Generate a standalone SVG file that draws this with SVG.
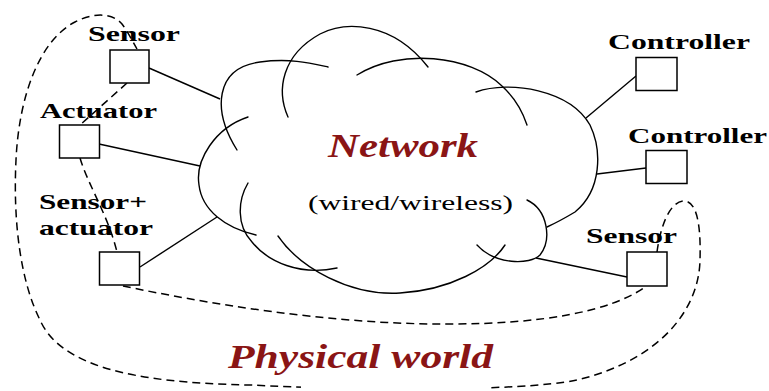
<svg xmlns="http://www.w3.org/2000/svg" width="769" height="391" viewBox="0 0 769 391">
<style>
.bg{fill:#ffffff}
.cloud{fill:none;stroke:#000;stroke-width:1.4;stroke-linecap:round}
.link{fill:none;stroke:#000;stroke-width:1.4}
.dash{fill:none;stroke:#000;stroke-width:1.5;stroke-dasharray:8 5}
.box{fill:#fff;stroke:#000;stroke-width:1.5}
.lbl{font-family:"Liberation Serif","Times New Roman",serif;font-weight:bold;font-size:22px;fill:#000}
.big{font-family:"Liberation Serif","Times New Roman",serif;font-weight:bold;font-style:italic;font-size:33px;fill:#8a1515}
.sub{font-family:"Liberation Serif","Times New Roman",serif;font-size:22px;fill:#000}
</style>
<rect class="bg" x="0" y="0" width="769" height="391"/>

<g id="physical-world">
  <path class="dash" d="M657,252 C660,230 668,203 683,201 C697,200 701,225 700,260 C699,310 660,360 577,380 C520,392 350,390 250,385 C130,383 60,365 40,320 C20,280 13,220 16,160 C19,95 40,40 75,22 C92,13 112,12 122,24 C128,32 133,42 137,49"/>
  <path class="dash" d="M127,83 L80,125"/>
  <path class="dash" d="M80,158 C88,185 108,215 117,252"/>
  <path class="dash" d="M123,286 C200,302 330,325 450,324 C540,324 610,312 645,287"/>
  <rect class="bg" x="301" y="342" width="190" height="49"/>
  <text class="big" x="228" y="368" textLength="265" lengthAdjust="spacingAndGlyphs">Physical world</text>
</g>

<g id="network">
  <path class="cloud" d="M237,150 C212,110 215,68 260,62 C290,58 310,63 328,67"/>
  <path class="cloud" d="M288,117 C276,90 282,55 320,34 C345,21 392,21 428,67"/>
  <path class="cloud" d="M357,75 C400,48 470,55 502,86 C515,98 522,110 527,125"/>
  <path class="cloud" d="M476,92 C510,80 570,90 590,125 C602,150 602,190 575,212 Q560,221 547,227"/>
  <path class="cloud" d="M527,200 C548,210 552,240 540,255 C530,265 495,265 477,245"/>
  <path class="cloud" d="M278,236 C300,268 350,296 400,293 C450,290 490,268 505,245"/>
  <path class="cloud" d="M248,117 C215,128 195,160 199,185 C202,210 225,228 256,235"/>
  <path class="cloud" d="M248,183 C238,200 236,225 252,242 C268,262 300,276 337,268"/>
  <text class="big" x="328" y="157" textLength="150" lengthAdjust="spacingAndGlyphs">Network</text>
  <text class="sub" x="308" y="210" textLength="205" lengthAdjust="spacingAndGlyphs">(wired/wireless)</text>
</g>

<g id="connectors">
  <line class="link" x1="149" y1="68" x2="220" y2="99"/>
  <line class="link" x1="99" y1="144" x2="200" y2="166"/>
  <line class="link" x1="140" y1="267" x2="217" y2="217"/>
  <line class="link" x1="636" y1="76" x2="586" y2="118"/>
  <line class="link" x1="646" y1="168" x2="597" y2="174"/>
  <line class="link" x1="627" y1="277" x2="536" y2="258"/>
</g>

<g id="sensor-left">
  <rect class="box" x="110" y="50" width="39" height="33"/>
  <text class="lbl" x="88" y="41" textLength="92" lengthAdjust="spacingAndGlyphs">Sensor</text>
</g>
<g id="actuator">
  <rect class="box" x="59.5" y="125" width="40" height="33"/>
  <text class="lbl" x="40" y="118" textLength="117" lengthAdjust="spacingAndGlyphs">Actuator</text>
</g>
<g id="sensor-actuator">
  <rect class="box" x="99.5" y="252" width="40" height="33"/>
  <text class="lbl" x="39" y="209" textLength="108" lengthAdjust="spacingAndGlyphs">Sensor+</text>
  <text class="lbl" x="39" y="235" textLength="114" lengthAdjust="spacingAndGlyphs">actuator</text>
</g>
<g id="controller-1">
  <rect class="box" x="636" y="57.5" width="41" height="33"/>
  <text class="lbl" x="608" y="49" textLength="142" lengthAdjust="spacingAndGlyphs">Controller</text>
</g>
<g id="controller-2">
  <rect class="box" x="646" y="150.5" width="41" height="33"/>
  <text class="lbl" x="628" y="143" textLength="139" lengthAdjust="spacingAndGlyphs">Controller</text>
</g>
<g id="sensor-right">
  <rect class="box" x="627" y="252" width="40" height="34"/>
  <text class="lbl" x="586" y="243" textLength="91" lengthAdjust="spacingAndGlyphs">Sensor</text>
</g>
</svg>
